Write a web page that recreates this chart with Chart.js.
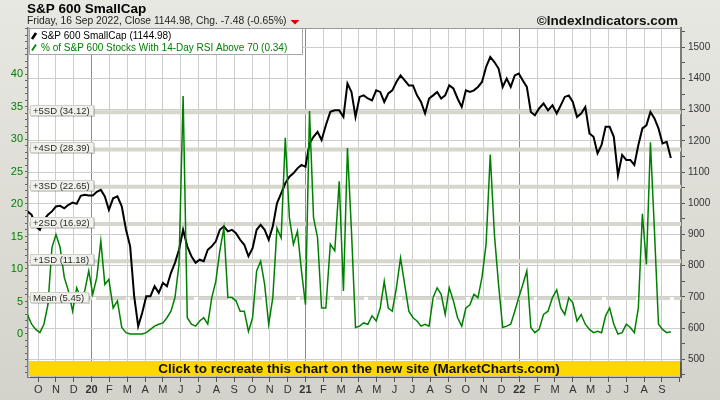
<!DOCTYPE html>
<html>
<head>
<meta charset="utf-8">
<script src="https://cdn.jsdelivr.net/npm/chart.js@4.4.0/dist/chart.umd.min.js"></script>
<style>
    html, body { margin: 0; padding: 0; background: #dcdcd4; }
    #wrap { width: 720px; height: 400px; }
</style>
</head>
<body>
<div id="wrap"><canvas id="grafico" width="720" height="400"></canvas></div>
<script>

// =========================
// DATOS (semanales, desde el viernes 13 Sep 2019)
// =========================

const startDate = "2019-09-13";

const smallCap = [
    974, 963, 926, 915, 947, 963, 974, 990, 992, 984, 995, 1002, 998, 1024, 1027, 1025, 1025, 1037, 1043, 1022,
    979, 1016, 1022, 990, 915, 862, 702, 606, 649, 702, 702, 734, 713, 745, 734, 777, 809, 851, 915, 862, 830,
    809, 819, 814, 851, 862, 878, 915, 926, 910, 915, 904, 883, 867, 830, 856, 915, 931, 915, 883, 926,
    1000, 1032, 1064, 1085, 1096, 1112, 1123, 1117, 1192, 1213, 1229, 1203, 1250, 1293, 1298, 1298, 1277, 1384, 1357, 1277,
    1341, 1346, 1336, 1330, 1362, 1357, 1325, 1352, 1362, 1389, 1410, 1394, 1378, 1378, 1346, 1325, 1288, 1336, 1346,
    1357, 1336, 1346, 1378, 1368, 1336, 1309, 1362, 1357, 1362, 1373, 1389, 1437, 1469, 1453, 1432, 1373, 1400, 1373,
    1410, 1416, 1394, 1373, 1293, 1282, 1304, 1320, 1298, 1314, 1288, 1314, 1341, 1346, 1325, 1277, 1288, 1309, 1224,
    1213, 1160, 1187, 1245, 1245, 1213, 1090, 1155, 1139, 1139, 1123, 1187, 1240, 1250, 1293, 1272, 1240, 1192, 1197, 1145
];

const rsiAbove70 = [
    3.0, 1.5, 0.7, 0.2, 1.5, 4.5, 13.3, 15.3, 13.3, 8.7, 6.6, 3.5, 7.1, 5.6, 6.6, 9.7, 6.1, 8.7, 14.3, 7.6,
    8.4, 4.0, 5.1, 1.0, 0.2, 0.0, 0.0, 0.0, 0.0, 0.2, 0.7, 1.2, 1.5, 1.7, 2.5, 3.5, 5.6, 10.7, 36.6, 2.5, 1.5,
    1.2, 2.0, 2.5, 1.5, 5.6, 8.1, 12.8, 16.3, 5.6, 5.6, 5.1, 3.5, 3.5, 0.4, 2.5, 9.7, 11.2, 7.6, 1.5, 5.6,
    16.3, 14.8, 30.2, 17.9, 13.8, 15.8, 9.7, 4.5, 34.3, 17.9, 14.8, 4.0, 4.0, 13.8, 12.8, 23.5, 6.6, 28.6, 15.8, 1.0,
    1.2, 1.7, 1.5, 2.8, 2.0, 4.0, 8.1, 4.0, 3.5, 7.1, 11.7, 7.6, 3.5, 2.5, 2.0, 1.2, 1.5, 1.2, 5.6,
    7.1, 6.1, 3.0, 7.1, 5.1, 2.5, 1.2, 4.0, 4.5, 6.1, 5.6, 8.7, 13.8, 27.6, 15.3, 7.6, 1.0, 1.2, 1.5,
    3.5, 5.6, 7.6, 9.7, 1.0, 0.2, 0.7, 3.0, 3.5, 5.6, 6.8, 4.0, 3.0, 5.6, 4.8, 2.0, 3.0, 1.5, 0.7,
    0.2, 0.4, 0.2, 2.8, 4.0, 1.5, 0.0, 0.2, 1.5, 1.0, 0.2, 4.0, 18.5, 10.7, 29.5, 15.8, 1.5, 0.7, 0.2, 0.34
];

const sdLevels = [34.12, 28.39, 22.65, 16.92, 11.18];
const sdLabels = ["+5SD (34.12)", "+4SD (28.39)", "+3SD (22.65)", "+2SD (16.92)", "+1SD (11.18)"];
const meanLevel = 5.45;
const meanLabel = "Mean (5.45)";

const monthLetters = ["J", "F", "M", "A", "M", "J", "J", "A", "S", "O", "N", "D"];

const legendItems = [
    { text: "S&P 600 SmallCap (1144.98)", color: "#000000", icon: 2.6 },
    { text: "% of S&P 600 Stocks With 14-Day RSI Above 70 (0.34)", color: "#008000", icon: 1.8 }
];

const titleText = "S&P 600 SmallCap";
const subtitleText = "Friday, 16 Sep 2022, Close 1144.98, Chg. -7.48 (-0.65%)";
const creditText = "\u00A9IndexIndicators.com";
const bannerText = "Click to recreate this chart on the new site (MarketCharts.com)";

const FONT = "'Liberation Sans', Arial, sans-serif";

// x en meses desde enero 2020
function monthPos(d) {
    const y = d.getUTCFullYear(), mo = d.getUTCMonth(), day = d.getUTCDate();
    const dim = new Date(Date.UTC(y, mo + 1, 0)).getUTCDate();
    return (y - 2020) * 12 + mo + (day - 1) / dim;
}

const fechas = smallCap.map((v, i) => {
    const d = new Date(startDate + "T00:00:00Z");
    d.setUTCDate(d.getUTCDate() + i * 7);
    return monthPos(d);
});

const X_MIN = -3.57;
const X_MAX = 33.07;

const serie = arr => arr.map((v, i) => ({ x: fechas[i], y: v }));
const nivel = v => [{ x: X_MIN, y: v }, { x: X_MAX, y: v }];


// =========================
// PLUGIN DE MARCO
// =========================

const marco = {

    id: "marco",

    beforeDraw(chart) {
        const { ctx, chartArea: a, width, height } = chart;
        ctx.save();
        const bg = ctx.createLinearGradient(0, 0, 0, height);
        bg.addColorStop(0, "#e8e8e2");
        bg.addColorStop(1, "#d3d3cb");
        ctx.fillStyle = bg;
        ctx.fillRect(0, 0, width, height);
        ctx.fillStyle = "#ffffff";
        ctx.fillRect(a.left, a.top, a.right - a.left, a.bottom - a.top);
        ctx.restore();
    },

    afterDatasetsDraw(chart) {
        const { ctx, chartArea: a, scales } = chart;
        const yL = scales.y;
        ctx.save();

        // etiquetas SD
        ctx.font = "9.5px " + FONT;
        ctx.textBaseline = "middle";
        const niveles = sdLevels.concat([meanLevel]);
        const textos = sdLabels.concat([meanLabel]);
        niveles.forEach((lv, i) => {
            const y = Math.round(yL.getPixelForValue(lv)) - 1;
            const w = Math.ceil(ctx.measureText(textos[i]).width) + 7;
            ctx.fillStyle = "rgba(0,0,0,0.18)";
            ctx.fillRect(a.left + 3, y - 5, w, 11);
            ctx.fillStyle = "#f1f1ec";
            ctx.fillRect(a.left + 2, y - 6, w, 11);
            ctx.strokeStyle = "#d0d0c6";
            ctx.lineWidth = 1;
            ctx.strokeRect(a.left + 2.5, y - 5.5, w - 1, 10);
            ctx.fillStyle = "#2a2a2a";
            ctx.fillText(textos[i], a.left + 5, y + 0.5);
        });

        // leyenda
        ctx.fillStyle = "#ffffff";
        ctx.fillRect(a.left + 1, a.top, 274, 27);
        ctx.strokeStyle = "#a8a8a8";
        ctx.strokeRect(a.left + 1.5, a.top + 0.5, 273, 26);
        ctx.font = "10px " + FONT;
        ctx.textBaseline = "alphabetic";
        legendItems.forEach((it, i) => {
            const y = a.top + 11 + i * 11.5;
            ctx.strokeStyle = it.color;
            ctx.lineWidth = it.icon;
            ctx.beginPath();
            ctx.moveTo(a.left + 4, y);
            ctx.lineTo(a.left + 8, y - 6);
            ctx.stroke();
            ctx.fillStyle = it.color;
            ctx.fillText(it.text, a.left + 13, y);
        });

        // banner amarillo
        ctx.fillStyle = "rgba(0,0,0,0.25)";
        ctx.fillRect(a.left + 2, a.bottom - 15, a.right - a.left - 1, 16);
        ctx.fillStyle = "#ffd700";
        ctx.fillRect(a.left + 1, a.bottom - 16, a.right - a.left - 2, 15);
        ctx.fillStyle = "#111111";
        ctx.font = "bold 13.5px " + FONT;
        ctx.textAlign = "center";
        ctx.textBaseline = "middle";
        ctx.fillText(bannerText, 359, a.bottom - 8);

        ctx.restore();
    },

    afterDraw(chart) {
        const { ctx, chartArea: a } = chart;
        ctx.save();

        ctx.strokeStyle = "#9a9a9a";
        ctx.lineWidth = 1;
        ctx.beginPath();
        ctx.moveTo(a.left, a.top + 0.5);
        ctx.lineTo(a.right, a.top + 0.5);
        ctx.stroke();

        ctx.textBaseline = "alphabetic";
        ctx.fillStyle = "#000000";
        ctx.font = "bold 13.5px " + FONT;
        ctx.fillText(titleText, 27, 13);

        ctx.fillStyle = "#222222";
        ctx.font = "10.3px " + FONT;
        ctx.fillText(subtitleText, 27, 24);
        const tx = 27 + ctx.measureText(subtitleText).width + 4;
        ctx.fillStyle = "#dd0000";
        ctx.beginPath();
        ctx.moveTo(tx, 20);
        ctx.lineTo(tx + 9, 20);
        ctx.lineTo(tx + 4.5, 24.5);
        ctx.closePath();
        ctx.fill();

        ctx.fillStyle = "#111111";
        ctx.font = "bold 13.5px " + FONT;
        ctx.textAlign = "right";
        ctx.fillText(creditText, 678, 25);

        ctx.restore();
    }

};


// =========================
// GRÁFICO
// =========================

const bandas = sdLevels.map(lv => ({
    data: nivel(lv),
    yAxisID: "y",
    borderColor: "#d6d6cc",
    borderWidth: 4,
    pointRadius: 0,
    order: 5
}));

bandas.push({
    data: nivel(meanLevel),
    yAxisID: "y",
    borderColor: "#d6d6cc",
    borderWidth: 3,
    borderDash: [30, 4],
    pointRadius: 0,
    order: 5
});

new Chart(document.getElementById("grafico"), {

    type: "line",

    data: {
        datasets: bandas.concat([
            {
                label: "S&P 600 SmallCap",
                data: serie(smallCap),
                yAxisID: "y2",
                borderColor: "#000000",
                borderWidth: 2,
                pointRadius: 0,
                tension: 0,
                order: 1
            },
            {
                label: "% of S&P 600 Stocks With 14-Day RSI Above 70",
                data: serie(rsiAbove70),
                yAxisID: "y",
                borderColor: "#008000",
                borderWidth: 1.5,
                pointRadius: 0,
                tension: 0,
                order: 0
            }
        ])
    },

    options: {

        responsive: false,
        animation: false,
        events: [],

        layout: {
            padding: { top: 28, left: 0, right: 0, bottom: 0 }
        },

        plugins: {
            legend: { display: false },
            tooltip: { enabled: false }
        },

        scales: {

            x: {
                type: "linear",
                min: X_MIN,
                max: X_MAX,
                afterFit: s => { s.height = 23; },
                ticks: {
                    stepSize: 1,
                    includeBounds: false,
                    autoSkip: false,
                    maxRotation: 0,
                    padding: 1,
                    color: "#333333",
                    font: c => ({
                        family: FONT,
                        size: 11,
                        weight: (c.tick && c.tick.value % 12 === 0) ? "bold" : "normal"
                    }),
                    callback: v => {
                        if (v > 32) return "";
                        const m = ((v % 12) + 12) % 12;
                        return m === 0 ? String(20 + v / 12) : monthLetters[m];
                    }
                },
                grid: {
                    color: c => {
                        if (!c.tick || c.tick.value > 32) return "rgba(0,0,0,0)";
                        return c.tick.value % 12 === 0 ? "#8c8c8c" : "#cdcdcd";
                    },
                    borderDash: c => (c.tick && c.tick.value % 12 === 0) ? [] : [4, 3],
                    tickColor: "#555555",
                    tickLength: 5
                },
                border: { color: "#777777", width: 1 }
            },

            y: {
                position: "left",
                min: -6.62,
                max: 47.08,
                afterFit: s => { s.width = 28; },
                ticks: {
                    stepSize: 1,
                    includeBounds: false,
                    autoSkip: false,
                    padding: 2,
                    color: "#008000",
                    font: { family: FONT, size: 11 },
                    callback: v => (v >= 0 && v <= 40 && v % 5 === 0) ? v : ""
                },
                grid: {
                    drawOnChartArea: false,
                    tickColor: "#666666",
                    tickLength: 3
                },
                border: { color: "#7a7a7a", width: 1.5 }
            },

            y2: {
                position: "right",
                min: 443,
                max: 1562,
                afterFit: s => { s.width = 39; },
                ticks: {
                    stepSize: 50,
                    includeBounds: false,
                    autoSkip: false,
                    padding: 3,
                    color: "#333333",
                    font: { family: FONT, size: 10 },
                    callback: v => v % 100 === 0 ? v : ""
                },
                grid: {
                    color: c => (c.tick && c.tick.value % 100 === 0) ? "#cdcdcd" : "rgba(0,0,0,0)",
                    borderDash: [4, 3],
                    tickColor: "#555555",
                    tickLength: 4
                },
                border: { color: "#7a7a7a", width: 2 }
            }

        }

    },

    plugins: [marco]

});
</script>
</body>
</html>
